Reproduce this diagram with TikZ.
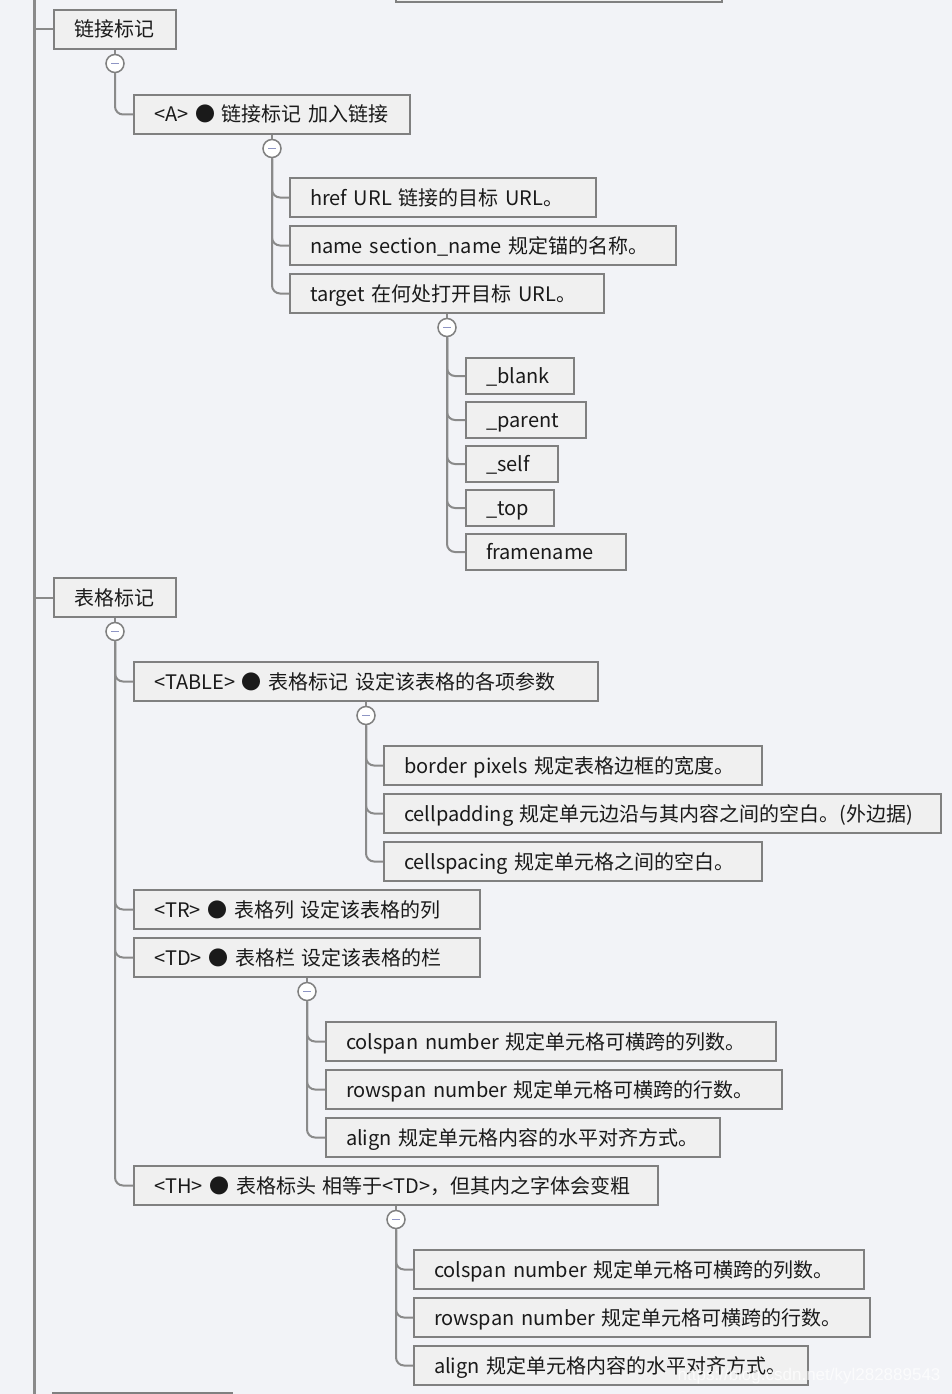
\documentclass[tikz,border=0pt]{standalone}
\usepackage{fontspec}
\setmainfont{Noto Sans CJK SC}
\newfontfamily\wmfont{Liberation Sans}
\definecolor{bg}{HTML}{F2F3F7}
\definecolor{boxfill}{HTML}{F0F0F0}
\definecolor{boxline}{HTML}{808080}
\definecolor{connc}{HTML}{8A8A8A}
\definecolor{minusc}{HTML}{8E95C4}
\definecolor{txt}{HTML}{1A1A1A}
\tikzset{
  tbox/.style={draw=boxline, fill=boxfill, line width=2pt, inner xsep=20pt, inner ysep=0pt,
    minimum height=39pt, anchor=north west, align=left, text=txt,
    font=\fontsize{20}{24}\selectfont, text height=17pt, text depth=2pt},
  sbox/.style={tbox, minimum height=36pt},
  conn/.style={draw=connc, line width=2pt, rounded corners=8pt},
  trunk/.style={draw=connc, line width=3pt},
  tog/.style={circle, draw=boxline, fill=white, line width=1.5pt, minimum size=18pt, inner sep=0pt,
    path picture={\draw[minusc, line width=1.6pt] ([xshift=-4pt]path picture bounding box.center) -- ([xshift=4pt]path picture bounding box.center);}},
}
\begin{document}
\begin{tikzpicture}[x=1pt,y=-1pt]
\useasboundingbox (0,0) rectangle (952,1394);
\fill[bg] (0,0) rectangle (952,1394);
\begin{scope}
\clip (0,0) rectangle (952,1394);
% partial boxes at edges
\node[tbox, text width=286pt, minimum height=41pt] (prev) at (395,-40) {};
\node[tbox, text width=139pt] (next) at (52,1392) {};
% trunk
\coordinate (ttop) at (34.5,-5);
\coordinate (tbot) at (34.5,1400);
\draw[trunk] (ttop) -- (tbot);

% ---------- 链接标记 ----------
\node[tbox, text width=82pt] (L1) at (53,9) {链接标记};
\draw[conn] (L1.west -| ttop) -- (L1.west);
\node[tog] (c1) at ([yshift=-13.5pt]L1.south) {};
\draw[conn] (L1.south) -- (c1.north);
\node[tbox, text width=236pt] (A) at (133,94) {<A> ● 链接标记 加入链接};
\draw[conn] (c1.south) |- (A.west);
\node[tog] (cA) at ([yshift=-13.5pt]A.south) {};
\draw[conn] (A.south) -- (cA.north);
\node[tbox, text width=266pt] (href) at (289,177) {href URL 链接的目标 URL。};
\node[tbox, text width=346pt] (name) at (289,225) {name section\_name 规定锚的名称。};
\node[tbox, text width=274pt] (target) at (289,273) {target 在何处打开目标 URL。};
\foreach \n in {href,name,target} \draw[conn] (cA.south) |- (\n.west);
\node[tog] (cT) at ([yshift=-13.5pt]target.south) {};
\draw[conn] (target.south) -- (cT.north);
\node[sbox, text width=68pt] (blank) at (465,357) {\_blank};
\node[sbox, text width=80pt] (parent) at (465,401) {\_parent};
\node[sbox, text width=52pt] (self) at (465,445) {\_self};
\node[sbox, text width=48pt] (top) at (465,489) {\_top};
\node[sbox, text width=120pt] (framename) at (465,533) {framename};
\foreach \n in {blank,parent,self,top,framename} \draw[conn] (cT.south) |- (\n.west);

% ---------- 表格标记 ----------
\node[tbox, text width=82pt] (L2) at (53,577) {表格标记};
\draw[conn] (L2.west -| ttop) -- (L2.west);
\node[tog] (c2) at ([yshift=-13.5pt]L2.south) {};
\draw[conn] (L2.south) -- (c2.north);
\node[tbox, text width=424pt] (TABLE) at (133,661) {<TABLE> ● 表格标记 设定该表格的各项参数};
\node[tbox, text width=306pt] (TR) at (133,889) {<TR> ● 表格列 设定该表格的列};
\node[tbox, text width=306pt] (TD) at (133,937) {<TD> ● 表格栏 设定该表格的栏};
\node[tbox, text width=484pt] (TH) at (133,1165) {<TH> ● 表格标头 相等于<TD>，但其内之字体会变粗};
\foreach \n in {TABLE,TR,TD,TH} \draw[conn] (c2.south) |- (\n.west);

\node[tog] (cTB) at ([yshift=-13.5pt]TABLE.south) {};
\draw[conn] (TABLE.south) -- (cTB.north);
\node[tbox, text width=338pt] (border) at (383,745) {border pixels 规定表格边框的宽度。};
\node[tbox, text width=517pt] (cellpadding) at (383,793) {cellpadding 规定单元边沿与其内容之间的空白。(外边据)};
\node[tbox, text width=338pt] (cellspacing) at (383,841) {cellspacing 规定单元格之间的空白。};
\foreach \n in {border,cellpadding,cellspacing} \draw[conn] (cTB.south) |- (\n.west);

\node[tog] (cTD) at ([yshift=-13.5pt]TD.south) {};
\draw[conn] (TD.south) -- (cTD.north);
\node[tbox, text width=410pt] (colA) at (325,1021) {colspan number 规定单元格可横跨的列数。};
\node[tbox, text width=416pt] (rowA) at (325,1069) {rowspan number 规定单元格可横跨的行数。};
\node[tbox, text width=354pt] (alA) at (325,1117) {align 规定单元格内容的水平对齐方式。};
\foreach \n in {colA,rowA,alA} \draw[conn] (cTD.south) |- (\n.west);

\node[tog] (cTH) at ([yshift=-13.5pt]TH.south) {};
\draw[conn] (TH.south) -- (cTH.north);
\node[tbox, text width=410pt] (colB) at (413,1249) {colspan number 规定单元格可横跨的列数。};
\node[tbox, text width=416pt] (rowB) at (413,1297) {rowspan number 规定单元格可横跨的行数。};
\node[tbox, text width=354pt] (alB) at (413,1345) {align 规定单元格内容的水平对齐方式。};
\foreach \n in {colB,rowB,alB} \draw[conn] (cTH.south) |- (\n.west);

% watermark
\node[anchor=east, text=white, opacity=0.75, font=\wmfont\fontsize{17}{20}\selectfont] (wm) at (944,1376) {https://blog.csdn.net/kyl282889543};
\end{scope}
\end{tikzpicture}
\end{document}
